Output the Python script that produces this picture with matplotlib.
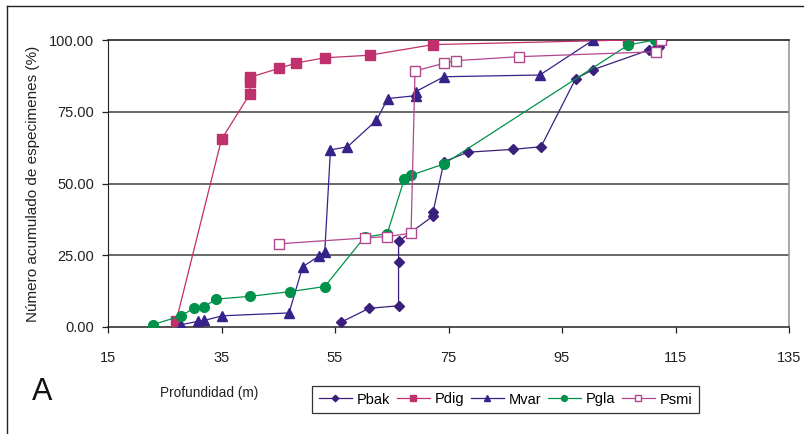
import matplotlib
matplotlib.use("Agg")
import matplotlib.pyplot as plt
from matplotlib.lines import Line2D
from matplotlib.ticker import FormatStrFormatter

plt.rcParams['font.family'] = ['Liberation Sans', 'DejaVu Sans']

# ---- data ----
pbak_x = [56, 61, 66.2, 66.2, 66.2, 72.3, 72.3, 74.2, 78.4, 86.4, 91.3, 97.4, 100.4, 110.3, 111.4, 112.1, 112.6]
pbak_y = [1.6, 6.5, 7.4, 22.6, 29.8, 38.7, 40.2, 57.6, 60.9, 61.9, 62.8, 86.5, 89.6, 96.5, 96.9, 97.4, 100]

pdig_x = [27, 35, 40, 40, 40, 45.1, 48.2, 53.2, 61.1, 72.3, 106.6]
pdig_y = [2, 65.4, 81.2, 85.5, 87, 90.1, 92, 93.8, 94.7, 98.4, 100]

mvar_x = [27.9, 30.9, 32, 35.1, 46.9, 49.3, 52.1, 53.2, 54.2, 57.2, 62.3, 64.3, 69.2, 69.2, 74.2, 91.1, 100.5]
mvar_y = [0.8, 2, 2.3, 3.9, 4.9, 21, 24.6, 26.3, 61.7, 62.8, 72, 79.6, 80.6, 82, 87.2, 87.8, 100]

pgla_x = [22.9, 27.9, 30.1, 32, 34, 40.1, 47, 53.2, 60.2, 64.2, 67.2, 68.4, 74.2, 106.7, 111.4]
pgla_y = [0.8, 3.9, 6.5, 7.1, 9.7, 10.7, 12.3, 14.1, 31.3, 32.5, 51.5, 52.9, 56.8, 98.3, 100]

psmi_x = [45.1, 60.2, 64.2, 68.4, 69.1, 74.2, 76.3, 87.5, 111.5, 112.4]
psmi_y = [29, 31, 31.5, 32.7, 89.2, 91.9, 92.8, 94.2, 95.9, 100]

x_ticks = [15, 35, 55, 75, 95, 115, 135]
y_ticks = [0, 25, 50, 75, 100]

# ---- figure ----
W, H = 807, 434
fig = plt.figure(figsize=(W / 100, H / 100), dpi=100)
ax = fig.add_axes([108 / W, 1 - 327 / H, (789 - 108) / W, (327 - 40) / H])

c_pbak = '#3b1f7c'
c_pdig = '#c0306c'
c_mvar = '#372289'
c_pgla = '#00924a'
c_psmi = '#b0468e'

lw = 0.9
ax.plot(pbak_x, pbak_y, color=c_pbak, lw=lw, marker='D', ms=5.5, mfc=c_pbak, mec=c_pbak, label='Pbak', zorder=3)
ax.plot(pdig_x, pdig_y, color=c_pdig, lw=lw, marker='s', ms=6.5, mfc=c_pdig, mec=c_pdig, label='Pdig', zorder=3)
ax.plot(mvar_x, mvar_y, color=c_mvar, lw=lw, marker='^', ms=7.5, mfc=c_mvar, mec=c_mvar, label='Mvar', zorder=3)
ax.plot(pgla_x, pgla_y, color=c_pgla, lw=lw, marker='o', ms=7, mfc=c_pgla, mec=c_pgla, label='Pgla', zorder=3)
ax.plot(psmi_x, psmi_y, color=c_psmi, lw=lw, marker='s', ms=6.5, mfc='white', mec=c_psmi, mew=1.0, label='Psmi', zorder=3)

ax.set_xlim(15, 135)
ax.set_ylim(0, 100)
ax.set_xticks(x_ticks)
ax.set_yticks(y_ticks)
ax.yaxis.set_major_formatter(FormatStrFormatter('%.2f'))
ax.tick_params(axis='both', direction='out', length=4, width=0.9, color='#222222',
               labelsize=10.5, labelcolor='#222222')
ax.tick_params(axis='x', pad=13)
ax.tick_params(axis='y', pad=6)

for yv in [25, 50, 75]:
    ax.axhline(yv, color='#404040', lw=1.1, zorder=1)
ax.spines['top'].set_color('#222222')
ax.spines['top'].set_linewidth(1.2)
ax.spines['left'].set_color('#222222')
ax.spines['bottom'].set_color('#222222')
ax.spines['bottom'].set_linewidth(1.1)
ax.spines['right'].set_color('#909090')
ax.spines['right'].set_linewidth(1.1)

ax.set_ylabel('Número acumulado de especimenes (%)', fontsize=11, color='#222222')
ax.yaxis.set_label_coords(-(108 - 40) / (789 - 108), 0.5)

fig.text(160 / W, 1 - 393 / H, 'Profundidad (m)', fontsize=9.8, color='#222222', ha='left', va='center')
fig.text(32 / W, 1 - 392 / H, 'A', fontsize=22, color='#111111', ha='left', va='center')

leg = fig.legend(loc='center', bbox_to_anchor=(505.5 / W, 1 - 399.5 / H), ncol=5, fontsize=10.5,
                 frameon=True, fancybox=False, edgecolor='#333333', framealpha=1,
                 handlelength=2.3, handletextpad=0.3, columnspacing=0.45, markerscale=0.6,
                 borderpad=0.45, borderaxespad=0)
leg.get_frame().set_linewidth(0.9)

# outer frame (top and left only)
fig.add_artist(Line2D([7 / W, 803 / W], [1 - 6 / H, 1 - 6 / H], transform=fig.transFigure, color='#222222', lw=1.0))
fig.add_artist(Line2D([7 / W, 7 / W], [1 - 6 / H, 0], transform=fig.transFigure, color='#222222', lw=1.0))

fig.savefig('out.png', dpi=100)
